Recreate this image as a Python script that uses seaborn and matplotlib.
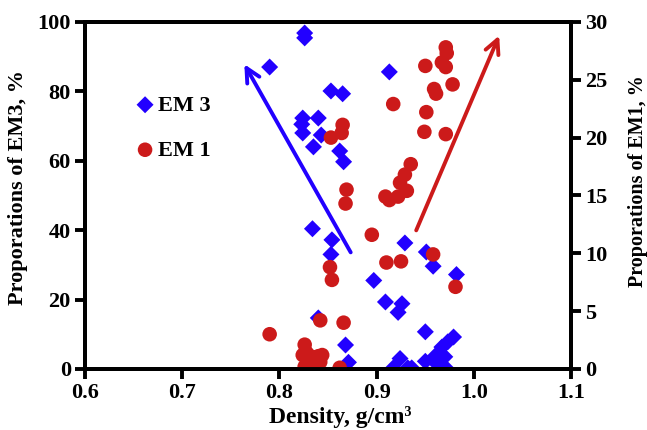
import matplotlib
matplotlib.use('Agg')
import matplotlib.pyplot as plt
import seaborn as sns
import pandas as pd

# EM 3 (eixo esquerdo)
em3_densidade = [0.790, 0.826, 0.826, 0.824, 0.840, 0.823, 0.824, 0.843, 0.835, 0.853,
                 0.865, 0.862, 0.866, 0.913, 0.834, 0.854, 0.853, 0.840, 0.868, 0.871,
                 0.840, 0.929, 0.951, 0.958, 0.982, 0.897, 0.909, 0.926, 0.922, 0.950,
                 0.924, 0.917, 0.932, 0.936, 0.950, 0.960, 0.961, 0.970, 0.967, 0.973,
                 0.979, 0.971]
em3_prop = [87.0, 96.8, 95.4, 72.3, 72.3, 70.5, 68.0, 67.4, 64.0, 80.1,
            79.3, 62.8, 59.7, 85.6, 40.4, 37.2, 33.0, 14.7, 6.9, 1.9,
            0.0, 36.3, 33.7, 29.6, 27.2, 25.5, 19.3, 18.8, 16.3, 10.7,
            3.0, 0.3, 0.3, 0.3, 2.2, 3.7, 1.7, 3.5, 6.3, 7.8,
            9.2, 0.3]

# EM 1 (eixo direito)
em1_densidade = [0.971, 0.972, 0.950, 0.967, 0.971, 0.978, 0.959, 0.961, 0.917, 0.951,
                 0.949, 0.971, 0.865, 0.864, 0.853, 0.869, 0.868, 0.935, 0.929, 0.924,
                 0.931, 0.909, 0.913, 0.922, 0.895, 0.910, 0.925, 0.958, 0.981, 0.852,
                 0.854, 0.842, 0.866, 0.790, 0.862, 0.826, 0.827, 0.824, 0.830, 0.826,
                 0.833, 0.836, 0.840, 0.844, 0.838, 0.842, 0.829]
em1_prop = [27.8, 27.3, 26.2, 26.5, 26.1, 24.6, 24.2, 23.8, 22.9, 22.2,
            20.5, 20.3, 21.1, 20.4, 20.0, 15.5, 14.3, 17.7, 16.8, 16.1,
            15.4, 14.9, 14.6, 14.9, 11.6, 9.2, 9.3, 9.9, 7.1, 8.8,
            7.7, 4.2, 4.0, 3.0, 0.1, 2.1, 1.5, 1.2, 0.7, 0.2,
            0.2, 1.0, 1.1, 1.2, 0.5, 0.6, 1.3]

azul = '#2200ff'
vermelho = '#cc1a1a'

df3 = pd.DataFrame({'densidade': em3_densidade, 'prop': em3_prop})
df1 = pd.DataFrame({'densidade': em1_densidade, 'prop': em1_prop})

sns.set_style('ticks')
plt.rcParams['font.family'] = ['Liberation Serif', 'DejaVu Serif']
plt.rcParams['font.weight'] = 'bold'
plt.rcParams['text.color'] = 'black'

fig = plt.figure(figsize=(6.47, 4.30), dpi=100)
ax = fig.add_axes([0.131, 0.142, 0.752, 0.807])
ax2 = ax.twinx()

sns.scatterplot(data=df3, x='densidade', y='prop', ax=ax, marker='D', s=75,
                color=azul, edgecolor='none', label='EM 3', legend=False)
sns.scatterplot(data=df1, x='densidade', y='prop', ax=ax2, marker='o', s=110,
                color=vermelho, edgecolor='none', label='EM 1', legend=False)

# setas
ax.annotate('', xy=(0.7626, 88.5), xytext=(0.8747, 32.9),
            arrowprops=dict(arrowstyle='->', color=azul, lw=2.8, mutation_scale=25))
ax.annotate('', xy=(1.027, 96.8), xytext=(0.9395, 39.2),
            arrowprops=dict(arrowstyle='->', color=vermelho, lw=2.8, mutation_scale=25))

ax.set_xlim(0.6, 1.1)
ax.set_ylim(0, 100)
ax2.set_ylim(0, 30)
ax.set_xticks([0.6, 0.7, 0.8, 0.9, 1.0, 1.1])
ax.set_xticklabels(['0.6', '0.7', '0.8', '0.9', '1.0', '1.1'])
ax.set_yticks([0, 20, 40, 60, 80, 100])
ax2.set_yticks([0, 5, 10, 15, 20, 25, 30])

ax.set_xlabel('Density, g/cm³', fontsize=17, fontweight='bold', color='black')
ax.set_ylabel('Proporations of EM3, %', fontsize=16, fontweight='bold', color='black')
ax2.set_ylabel('Proporations of EM1, %', fontsize=14.5, fontweight='bold', color='black')
ax.xaxis.set_label_coords(0.525, -0.107)
ax.yaxis.set_label_coords(-0.117, 0.524)
ax2.yaxis.set_label_coords(1.117, 0.542)

for a in (ax, ax2):
    for sp in a.spines.values():
        sp.set_linewidth(2.8)
        sp.set_color('black')
        sp.set_visible(True)
    a.tick_params(axis='both', labelsize=16, width=2.8, length=7, direction='out',
                  color='black', labelcolor='black', pad=3)
    for lab in a.get_xticklabels() + a.get_yticklabels():
        lab.set_fontweight('bold')

h1, l1 = ax.get_legend_handles_labels()
h2, l2 = ax2.get_legend_handles_labels()
leg = ax.legend(h1 + h2, l1 + l2, loc='upper left', bbox_to_anchor=(0.06, 0.847),
                frameon=False, handlelength=1.0, handletextpad=0.1, labelspacing=1.1,
                prop={'weight': 'bold', 'size': 16})

fig.savefig('out.png', dpi=100)
